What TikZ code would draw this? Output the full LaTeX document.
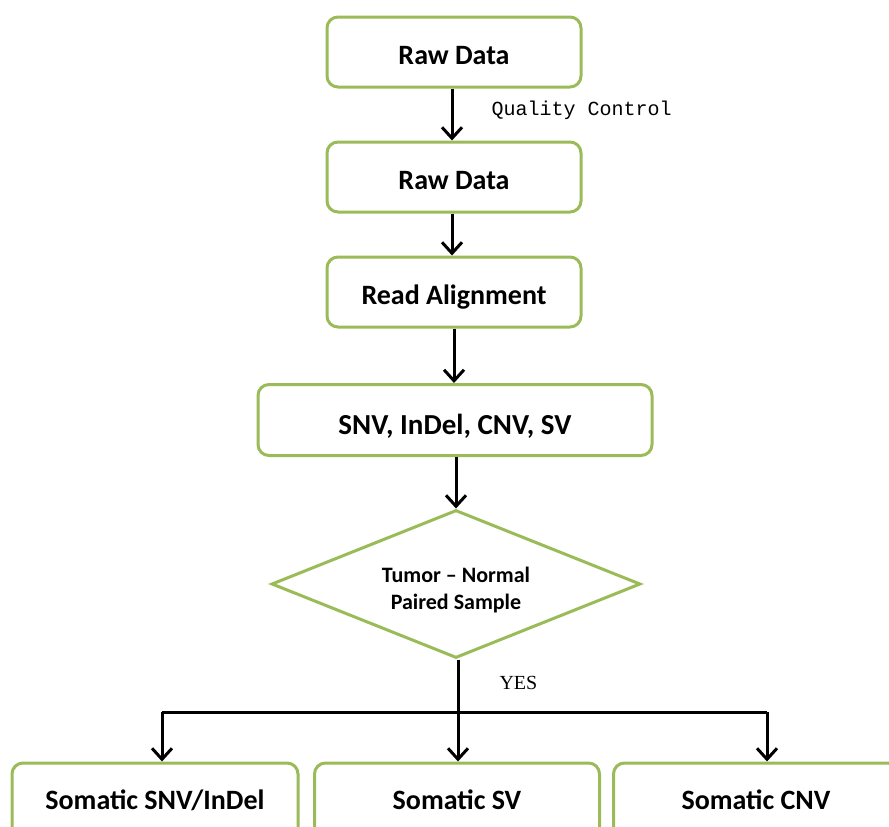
\documentclass[tikz,border=0pt]{standalone}
\usepackage{fontspec}
\setmainfont{Carlito}
\newfontfamily\monofont{Liberation Mono}
\newfontfamily\seriffont{Liberation Serif}
\usetikzlibrary{arrows.meta,shapes.geometric}
\definecolor{boxgreen}{HTML}{9BBB59}
\tikzset{
  box/.style={draw=boxgreen, line width=3pt, rounded corners=11pt, fill=white, inner sep=0pt, font=\bfseries\fontsize{28}{32}\selectfont, text height=24pt, text depth=0pt},
  lowbox/.style={box, text height=12pt, text depth=10pt},
  dia/.style={draw=boxgreen, line width=3pt, diamond, inner sep=0pt, fill=white, font=\bfseries\fontsize{22}{27}\selectfont, align=center},
  arr/.style={line width=3pt, -{Straight Barb[length=11pt,width=20pt,line width=3pt]}},
  ln/.style={line width=3pt},
}
\begin{document}
\begin{tikzpicture}[x=1pt,y=-1pt]
\useasboundingbox (0,0) rectangle (889,827);
\clip (0,0) rectangle (889,827);
\node[box, minimum width=254pt, minimum height=70pt] (b1) at (454,52) {Raw Data};
\node[box, minimum width=254pt, minimum height=70pt] (b2) at (454,177) {Raw Data};
\node[box, minimum width=254pt, minimum height=70pt] (b3) at (454,292) {Read Alignment};
\node[box, minimum width=394pt, minimum height=71pt, font=\bfseries\fontsize{29}{33}\selectfont, text height=29pt] (b4) at (455,420) {SNV, InDel, CNV, SV};
\node[dia, minimum width=369pt, minimum height=148pt, aspect=2.5] (d) at (456,584) {\rule{0pt}{27pt}Tumor -- Normal\\Paired Sample};
\node[lowbox, minimum width=286pt, minimum height=90pt] (c1) at (155,808) {Somatic SNV/InDel};
\node[lowbox, minimum width=285pt, minimum height=90pt] (c2) at (457,808) {Somatic SV};
\node[lowbox, minimum width=285pt, minimum height=90pt] (c3) at (756,808) {Somatic CNV};

\draw[arr] (b1.south -| 452,0) -- (b2.north -| 452,0);
\node[font=\monofont\fontsize{20}{24}\selectfont, anchor=west] (qc) at (488,110) {Quality Control};
\draw[arr] (b2.south -| 452,0) -- (b3.north -| 452,0);
\draw[arr] (b3.south -| 454,0) -- (b4.north -| 454,0);
\draw[arr] (b4.south -| 456,0) -- (d.north);
\coordinate (j) at (458,712);
\coordinate (jl) at (162,712);
\coordinate (jr) at (767,712);
\draw[ln] (d.south -| j) -- (j);
\draw[ln] (jl) -- (jr);
\draw[arr] (jl) -- (c1.north -| jl);
\draw[arr] (j) -- (c2.north -| j);
\draw[arr] (jr) -- (c3.north -| jr);
\node[font=\seriffont\fontsize{20}{24}\selectfont, anchor=west] (yes) at (496,683) {YES};
\end{tikzpicture}
\end{document}
